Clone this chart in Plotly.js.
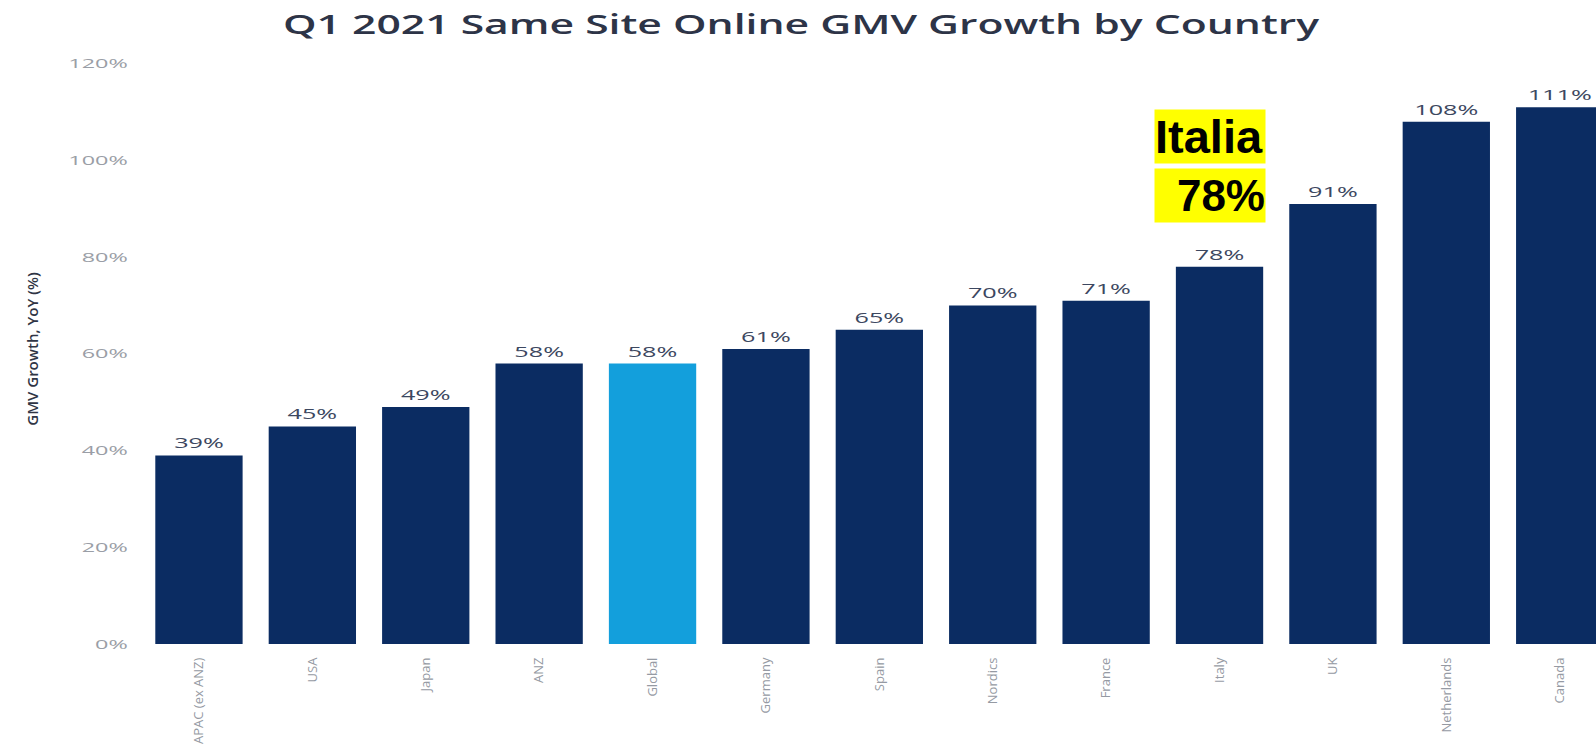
<!DOCTYPE html>
<html>
<head>
<meta charset="utf-8">
<script src="https://cdn.plot.ly/plotly-3.0.1.min.js"></script>
<style>html,body{margin:0;padding:0;background:#fff;}#chart{width:1596px;height:755px;}</style>
</head>
<body>
<div id="chart"></div>
<script>
const categories = ["APAC (ex ANZ)", "USA", "Japan", "ANZ", "Global", "Germany", "Spain", "Nordics", "France", "Italy", "UK", "Netherlands", "Canada"];
const growth = [39, 45, 49, 58, 58, 61, 65, 70, 71, 78, 91, 108, 111];
const highlight = "Global";
const yTicks = [0, 20, 40, 60, 80, 100, 120];
const yTickLabels = ["0%", "20%", "40%", "60%", "80%", "100%", "120%"];
const calloutName = "Italia";
const calloutValue = "78%";

const navy = "#0b2c62";
const light = "#139fdc";

const trace = {
  type: "bar",
  x: categories,
  y: growth,
  marker: {color: categories.map(c => c === highlight ? light : navy)},
  text: growth.map(v => v + "%"),
  textposition: "outside",
  cliponaxis: false,
  textfont: {family: "Open Sans, sans-serif", size: 14, color: "#3c4760"},
  hoverinfo: "none"
};

const layout = {
  width: 1596, height: 755,
  margin: {l: 135, r: 0, t: 54, b: 111},
  paper_bgcolor: "#fff", plot_bgcolor: "#fff",
  showlegend: false,
  bargap: 0.23,
  title: {
    text: "Q1 2021 Same Site Online GMV Growth by Country",
    font: {family: "Open Sans, sans-serif", size: 27, weight: 600, color: "#2d3447"},
    x: 0.502, xanchor: "center", y: 0.968, yanchor: "middle"
  },
  xaxis: {
    type: "category",
    range: [-0.564, 12.32],
    tickangle: -90,
    tickfont: {family: "Open Sans, sans-serif", size: 13, color: "#959aa3"},
    showgrid: false, zeroline: false, showline: false, ticks: "",
    ticklabelstandoff: 10
  },
  yaxis: {
    range: [0, 122],
    tickvals: yTicks,
    ticktext: yTickLabels,
    tickfont: {family: "Open Sans, sans-serif", size: 13, color: "#9a9ea6"},
    showgrid: false, zeroline: false, showline: false, ticks: "",
    ticklabelstandoff: 6,
    title: {text: "GMV Growth, YoY (%)", font: {family: "Open Sans, sans-serif", size: 15, weight: 600, color: "#2f3545"}, standoff: 52}
  },
  annotations: [
    {
      xref: "x", yref: "y", x: 8.92, y: 105.0,
      text: "<b>" + calloutName + "</b>", showarrow: false,
      font: {family: "Liberation Sans, Arial, sans-serif", size: 47, color: "#000"},
      bgcolor: "#ffff00", width: 110, height: 53, align: "left", valign: "middle", borderpad: 0
    },
    {
      xref: "x", yref: "y", x: 8.92, y: 92.8,
      text: "<b>" + calloutValue + "</b>", showarrow: false,
      font: {family: "Liberation Sans, Arial, sans-serif", size: 44, color: "#000"},
      bgcolor: "#ffff00", width: 110, height: 53, align: "right", valign: "middle", borderpad: 0
    }
  ]
};

function stretch(el, s, anchor) {
  const bb = el.getBBox();
  const cx = anchor === "end" ? bb.x + bb.width : bb.x + bb.width / 2;
  const prev = el.getAttribute("transform") || "";
  el.setAttribute("transform", prev + " translate(" + cx + " 0) scale(" + s + " 1) translate(" + (-cx) + " 0)");
}

Plotly.newPlot("chart", [trace], layout, {displayModeBar: false, staticPlot: true}).then(gd => {
  gd.querySelectorAll(".gtitle").forEach(el => stretch(el, 1.58, "middle"));
  gd.querySelectorAll(".bartext").forEach(el => stretch(el, 1.8, "middle"));
  gd.querySelectorAll(".ytick text").forEach(el => stretch(el, 1.8, "end"));
});
</script>
</body>
</html>
